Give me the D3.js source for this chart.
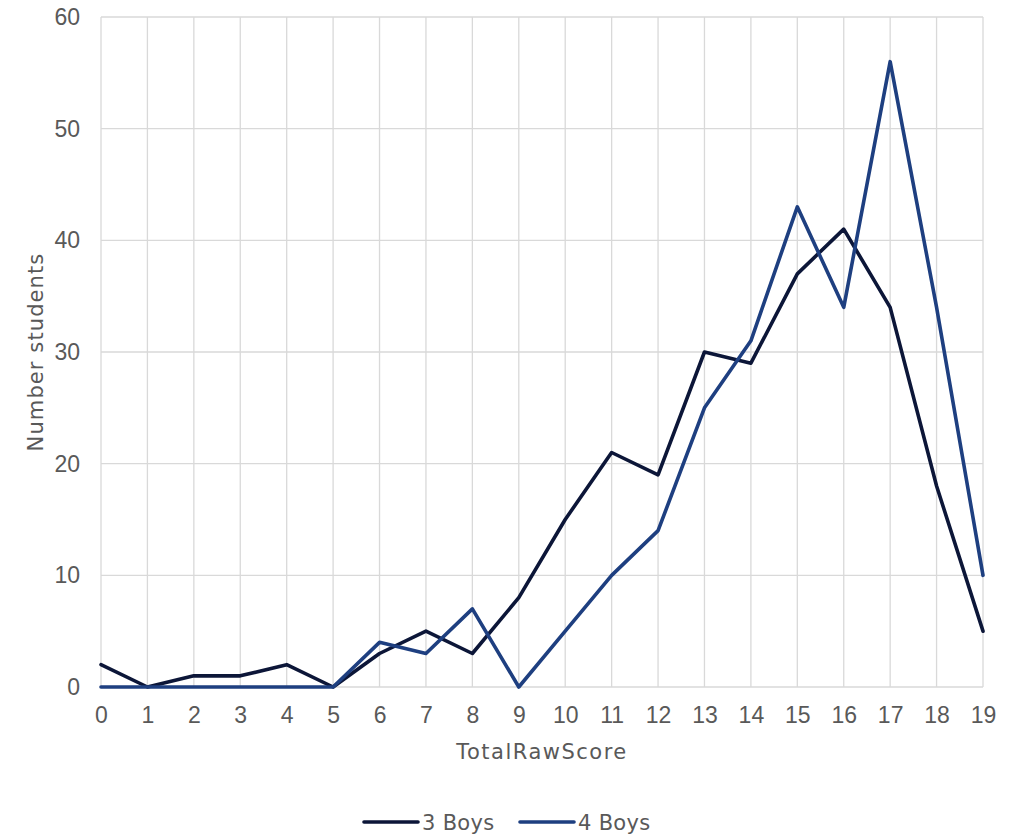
<!DOCTYPE html>
<html>
<head>
<meta charset="utf-8">
<script src="https://cdn.jsdelivr.net/npm/d3@7"></script>
<style>
  html, body { margin: 0; padding: 0; background: #fff; }
  svg { display: block; font-family: "DejaVu Sans", sans-serif; }
</style>
</head>
<body>
<svg id="chart" width="1010" height="836"></svg>
<script>
// Score categories on the x axis
const scores = [0, 1, 2, 3, 4, 5, 6, 7, 8, 9, 10, 11, 12, 13, 14, 15, 16, 17, 18, 19];
// Number of students per score
const boys3 = [2, 0, 1, 1, 2, 0, 3, 5, 3, 8, 15, 21, 19, 30, 29, 37, 41, 34, 18, 5];
const boys4 = [0, 0, 0, 0, 0, 0, 4, 3, 7, 0, 5, 10, 14, 25, 31, 43, 34, 56, 34, 10];
const yTicks = [0, 10, 20, 30, 40, 50, 60];
const seriesNames = ["3 Boys", "4 Boys"];
const seriesColors = ["#0c1638", "#1e3f80"];

const svg = d3.select("#chart");
const margin = { left: 101, right: 27, top: 17, bottom: 149 };
const W = 1010, H = 836;

const x = d3.scaleLinear().domain([0, 19]).range([margin.left, W - margin.right]);
const y = d3.scaleLinear().domain([0, 60]).range([H - margin.bottom, margin.top]);

const grid = "#d9d9d9";
const textColor = "#595959";
const tickFont = "'Liberation Sans', Arial, sans-serif";

// Horizontal gridlines
svg.append("g").selectAll("line").data(yTicks).join("line")
  .attr("x1", x(0)).attr("x2", x(19))
  .attr("y1", d => y(d)).attr("y2", d => y(d))
  .attr("stroke", grid).attr("stroke-width", 1.3);

// Vertical gridlines
svg.append("g").selectAll("line").data(scores).join("line")
  .attr("x1", d => x(d)).attr("x2", d => x(d))
  .attr("y1", y(0)).attr("y2", y(60))
  .attr("stroke", grid).attr("stroke-width", 1.3);

// Y axis labels
const yAxis = d3.axisLeft(y).tickValues(yTicks).tickSize(0).tickPadding(21);
const gy = svg.append("g").attr("transform", `translate(${x(0)},0)`).call(yAxis);
gy.select(".domain").remove();
gy.attr("font-size", 23).attr("font-family", tickFont);
gy.selectAll("text").attr("fill", textColor);

// X axis labels
const xAxis = d3.axisBottom(x).tickValues(scores).tickSize(0).tickPadding(20).tickFormat(d3.format("d"));
const gx = svg.append("g").attr("transform", `translate(0,${y(0)})`).call(xAxis);
gx.select(".domain").remove();
gx.attr("font-size", 23).attr("font-family", tickFont);
gx.selectAll("text").attr("fill", textColor);

// Axis titles
svg.append("text")
  .attr("x", (x(0) + x(19)) / 2).attr("y", 759)
  .attr("text-anchor", "middle").attr("fill", textColor)
  .style("font-size", "21px").style("letter-spacing", "1.5px")
  .text("TotalRawScore");

svg.append("text")
  .attr("transform", `translate(43,${(y(0) + y(60)) / 2}) rotate(-90)`)
  .attr("text-anchor", "middle").attr("fill", textColor)
  .style("font-size", "21px").style("letter-spacing", "1.1px")
  .text("Number students");

// Series lines
const line = d3.line().x((d, i) => x(scores[i])).y(d => y(d));
[boys3, boys4].forEach((s, i) => {
  svg.append("path").datum(s)
    .attr("d", line)
    .attr("fill", "none")
    .attr("stroke", seriesColors[i])
    .attr("stroke-width", 3.6)
    .attr("stroke-linejoin", "round")
    .attr("stroke-linecap", "round");
});

// Legend
const legendX = [364, 520];
const lg = svg.append("g");
seriesNames.forEach((name, i) => {
  lg.append("line")
    .attr("x1", legendX[i]).attr("x2", legendX[i] + 54)
    .attr("y1", 822).attr("y2", 822)
    .attr("stroke", seriesColors[i]).attr("stroke-width", 3.6)
    .attr("stroke-linecap", "round");
  lg.append("text")
    .attr("x", legendX[i] + 58).attr("y", 830)
    .attr("fill", textColor).style("font-size", "21px").style("letter-spacing", "0.3px")
    .text(name);
});
</script>
</body>
</html>
